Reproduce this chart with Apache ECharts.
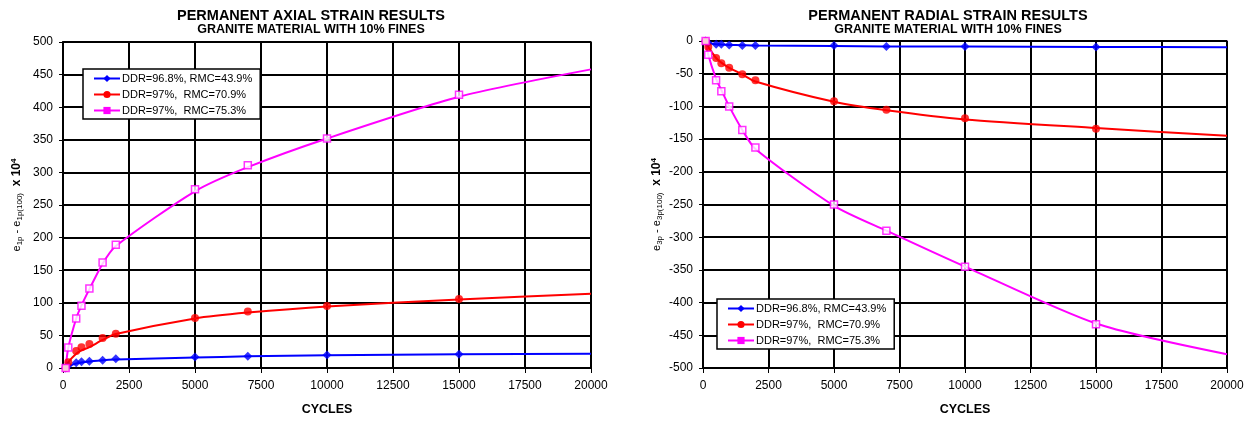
<!DOCTYPE html>
<html>
<head>
<meta charset="utf-8">
<script src="https://cdn.jsdelivr.net/npm/echarts@6/dist/echarts.min.js"></script>
<style>
  html, body { margin: 0; padding: 0; background: #fff; }
  #chart { width: 1250px; height: 421px; }
</style>
</head>
<body>
<div id="chart"></div>
<script>
// Load cycles at which strains were recorded, and cycles of the fitted curves
const cycles = [100, 200, 500, 700, 1000, 1500, 2000, 5000, 7000, 10000, 15000];
const fitCycles = [100, 200, 500, 700, 1000, 1500, 2000, 5000, 7000, 10000, 15000, 20000];

const seriesNames = ['DDR=96.8%, RMC=43.9%', 'DDR=97%,  RMC=70.9%', 'DDR=97%,  RMC=75.3%'];

// Permanent axial strain (x 10^-4), measured and fitted
const axialBlue = [0, 4, 8, 9.5, 10.5, 12, 14, 17, 18, 20, 21];
const axialBlueFit = [0, 3, 7, 8.5, 10, 12, 13, 16, 18, 19.5, 21, 22];
const axialRed = [0, 9, 26, 32, 37, 46, 52.5, 76.5, 86.5, 95, 106];
const axialRedFit = [0, 9, 22, 27, 32, 43, 52, 76, 85, 94.5, 105, 114];
const axialMag = [0, 31.5, 76, 95.5, 122, 162, 189, 274, 311, 352, 419];
const axialMagFit = [0, 31, 76, 96, 121, 160, 187, 271, 308, 352, 416, 458];

// Permanent radial strain (x 10^-4), measured and fitted
const radialBlue = [0, -3, -5, -5, -6, -7, -7, -7, -8.5, -8.5, -9];
const radialBlueFit = [0, -3, -5, -5.5, -6, -6.5, -7, -7.5, -8.5, -8.5, -9, -9.5];
const radialRed = [0, -9, -26, -34, -41, -51, -60, -92, -105, -118, -134];
const radialRedFit = [0, -9, -26, -33, -41, -51, -62, -93, -106, -120, -133, -145];
const radialMag = [0, -21, -60, -77, -100, -136, -163, -250, -290, -345, -433];
const radialMagFit = [0, -21, -58, -75, -100, -136, -165, -252, -290, -345, -432, -479];

const xTicks = { min: 0, max: 20000, interval: 2500 };

const colors = ['#0000ff', '#ff0000', '#ff00ff'];
const symbols = ['diamond', 'circle', 'rect'];
const symbolSizes = [9, 8, 7];
const FONT = 'Arial, "Liberation Sans", sans-serif';

function zip(xs, ys) { return xs.map((x, i) => [x, ys[i]]); }

function panelSeries(gridIdx, measured, fitted) {
  const out = [];
  measured.forEach((vals, k) => {
    out.push({
      name: seriesNames[k], type: 'line', xAxisIndex: gridIdx, yAxisIndex: gridIdx,
      data: zip(fitCycles, fitted[k]), showSymbol: false, symbol: symbols[k], symbolSize: 7,
      smooth: 0.25, lineStyle: { color: colors[k], width: 2 }, itemStyle: { color: colors[k] },
      z: 3, animation: false
    });
    const hollow = k === 2;
    out.push({
      name: seriesNames[k], type: 'scatter', xAxisIndex: gridIdx, yAxisIndex: gridIdx,
      data: zip(cycles, vals), symbol: symbols[k], symbolSize: symbolSizes[k],
      itemStyle: hollow ? { color: '#fff', borderColor: colors[k], borderWidth: 1.5 } : { color: colors[k] },
      z: 4, animation: false
    });
  });
  return out;
}

function xAxis(gridIdx) {
  return {
    type: 'value', gridIndex: gridIdx, ...xTicks,
    name: 'CYCLES', nameLocation: 'middle', nameGap: 35,
    nameTextStyle: { fontFamily: FONT, fontSize: 12.5, fontWeight: 'bold', color: '#000' },
    axisLine: { onZero: false, lineStyle: { color: '#000', width: 2 } },
    axisTick: { show: true, length: 5, lineStyle: { color: '#000', width: 1 } },
    axisLabel: { fontFamily: FONT, fontSize: 12, color: '#000', margin: 12,
                 formatter: v => String(v) },
    splitLine: { show: true, lineStyle: { color: '#000', width: 2 } }
  };
}

function yAxis(gridIdx, min, max, sub) {
  return {
    type: 'value', gridIndex: gridIdx, min: min, max: max, interval: 50,
    name: '{e|e}{s|' + sub + '}{e| - e}{s|' + sub + '(100)}{b|  x 10}{p|4}',
    nameLocation: 'middle', nameRotate: 90, nameGap: 39,
    nameTextStyle: {
      fontFamily: FONT, color: '#000',
      rich: {
        e: { fontFamily: FONT, fontSize: 11, color: '#000', verticalAlign: 'middle' },
        s: { fontFamily: FONT, fontSize: 8, color: '#000', verticalAlign: 'bottom', padding: [4, 0, 0, 0] },
        b: { fontFamily: FONT, fontSize: 12, fontWeight: 'bold', color: '#000', verticalAlign: 'middle' },
        p: { fontFamily: FONT, fontSize: 8, fontWeight: 'bold', color: '#000', verticalAlign: 'top', padding: [0, 0, 6, 0] }
      }
    },
    axisLine: { onZero: false, lineStyle: { color: '#000', width: 2 } },
    axisTick: { show: true, length: 4, lineStyle: { color: '#000', width: 1 } },
    axisLabel: { fontFamily: FONT, fontSize: 12, color: '#000', margin: 10,
                 formatter: v => String(v) },
    splitLine: { show: true, lineStyle: { color: '#000', width: 2 } }
  };
}

function legend(left, top) {
  return {
    data: seriesNames, orient: 'vertical', left: left, top: top,
    backgroundColor: '#fff', borderColor: '#000', borderWidth: 1.5, borderRadius: 0,
    padding: [4, 8, 3, 10], itemGap: 5, itemWidth: 26, itemHeight: 9,
    textStyle: { fontFamily: FONT, fontSize: 11, color: '#000', padding: [0, 0, 0, -3] },
    selectedMode: false
  };
}

const titleStyle = { fontFamily: FONT, fontSize: 14.5, fontWeight: 'bold', color: '#000' };
const subStyle = { fontFamily: FONT, fontSize: 12.5, fontWeight: 'bold', color: '#000' };

const chart = echarts.init(document.getElementById('chart'), null, { renderer: 'canvas' });
chart.setOption({
  backgroundColor: '#fff',
  animation: false,
  title: [
    { text: 'PERMANENT AXIAL STRAIN RESULTS', subtext: 'GRANITE MATERIAL WITH 10% FINES',
      left: 306, top: 3, textAlign: 'center', itemGap: 0,
      textStyle: titleStyle, subtextStyle: subStyle },
    { text: 'PERMANENT RADIAL STRAIN RESULTS', subtext: 'GRANITE MATERIAL WITH 10% FINES',
      left: 943, top: 3, textAlign: 'center', itemGap: 0,
      textStyle: titleStyle, subtextStyle: subStyle }
  ],
  grid: [
    { left: 63, top: 42, width: 528, height: 330, show: true, borderColor: '#808080', borderWidth: 2 },
    { left: 703, top: 41, width: 524, height: 330, show: true, borderColor: '#b07cb4', borderWidth: 2 }
  ],
  xAxis: [xAxis(0), xAxis(1)],
  yAxis: [yAxis(0, 0, 500, '1p'), yAxis(1, -500, 0, '3p')],
  legend: [legend(83, 69), legend(717, 299)],
  series: [
    ...panelSeries(0, [axialBlue, axialRed, axialMag], [axialBlueFit, axialRedFit, axialMagFit]),
    ...panelSeries(1, [radialBlue, radialRed, radialMag], [radialBlueFit, radialRedFit, radialMagFit])
  ]
});
</script>
</body>
</html>
